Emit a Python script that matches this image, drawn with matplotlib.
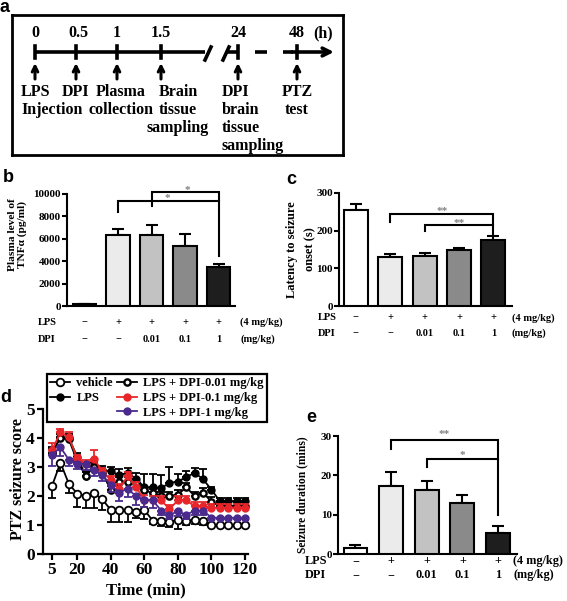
import numpy as np
import matplotlib
matplotlib.use("Agg")
import matplotlib.pyplot as plt
from matplotlib.lines import Line2D

SERIF = "Liberation Serif"
SANS = "Liberation Sans"
plt.rcParams['font.family'] = [SERIF, 'DejaVu Sans']
plt.rcParams['font.weight'] = 'bold'

W, H = 567, 601

# ---------------- data ----------------
# panel a: timeline
time_labels = ['0', '0.5', '1', '1.5', '24', '48']
event_labels = ['LPS\nInjection', 'DPI', 'Plasma\ncollection', 'Brain\ntissue\nsampling',
                'DPI\nbrain\ntissue\nsampling', 'PTZ\ntest']

# bar panels
groups_lps = ['\u2212', '+', '+', '+', '+']
groups_dpi = ['\u2212', '\u2212', '0.01', '0.1', '1']
bar_colors = ['white', '#ebebeb', '#c2c2c2', '#8a8a8a', '#1e1e1e']

tnf_vals = [180, 6330, 6330, 5400, 3480]
tnf_err = [0, 520, 910, 1060, 270]

lat_vals = [255, 131, 133, 148, 176]
lat_err = [15, 6, 9, 7, 9]

dur_vals = [1.45, 17.4, 16.3, 13.05, 5.25]
dur_err = [0.85, 3.4, 2.3, 1.95, 1.95]

# panel d: time course
t_min = [5, 10, 15, 20, 25, 30, 35, 40, 45, 50, 55, 60, 65, 70, 75, 80, 85, 90, 95, 100, 105, 110, 115, 120]
vehicle = [2.35, 3.15, 2.42, 2.08, 2.0, 2.1, 1.88, 1.52, 1.52, 1.52, 1.44, 1.52, 1.15, 1.15, 1.12, 1.17,
           1.15, 1.17, 1.15, 1.0, 1.0, 1.0, 1.0, 1.0]
vehicle_err = [0.43, 0.3, 0.3, 0.45, 0.4, 0.5, 0.35, 0.4, 0.4, 0.4, 0.2, 0.3, 0.1, 0.2, 0.2, 0.3, 0.15,
               0.15, 0.15, 0.03, 0.03, 0.03, 0.03, 0.03]
lps = [3.5, 4.03, 4.0, 3.35, 2.7, 3.05, 2.9, 2.85, 2.72, 2.8, 2.6, 2.3, 2.3, 2.27, 2.45, 2.5, 2.65, 2.8,
       2.58, 2.22, 1.82, 1.82, 1.82, 1.82]
lps_err = [0.2, 0.12, 0.15, 0.15, 0.12, 0.12, 0.15, 0.15, 0.2, 0.15, 0.2, 0.45, 0.45, 0.45, 0.55, 0.25,
           0.2, 0.15, 0.35, 0.1, 0.12, 0.12, 0.12, 0.12]
dpi001 = [3.5, 4.0, 3.95, 3.2, 2.7, 3.0, 2.8, 2.2, 2.5, 2.5, 2.45, 2.2, 2.1, 2.0, 2.0, 2.05, 2.3, 2.0,
          2.12, 1.8, 1.65, 1.65, 1.65, 1.65]
dpi001_err = [0.15] * 24
dpi01 = [3.58, 4.2, 4.02, 3.3, 3.1, 3.28, 2.85, 2.55, 2.25, 2.68, 2.3, 1.87, 1.85, 1.85, 1.55, 1.85,
         1.85, 1.65, 1.65, 1.6, 1.6, 1.6, 1.6, 1.6]
dpi01_err = [0.25, 0.12, 0.2, 0.12, 0.15, 0.3, 0.12, 0.15, 0.15, 0.15, 0.2, 0.15, 0.15, 0.15, 0.15,
             0.15, 0.15, 0.15, 0.15, 0.12, 0.12, 0.12, 0.12, 0.12]
dpi1 = [3.42, 3.68, 3.25, 3.12, 3.1, 2.88, 2.72, 2.38, 2.12, 2.25, 2.0, 1.87, 1.85, 1.5, 1.35, 1.47,
        1.35, 1.5, 1.5, 1.25, 1.25, 1.25, 1.25, 1.25]
dpi1_err = [0.4, 0.3, 0.2, 0.2, 0.2, 0.2, 0.2, 0.25, 0.3, 0.3, 0.3, 0.25, 0.25, 0.15, 0.15, 0.15,
            0.15, 0.15, 0.15, 0.05, 0.05, 0.05, 0.05, 0.05]

RED = '#e8262a'
PURPLE = '#4a2a8c'

fig = plt.figure(figsize=(W / 100, H / 100), dpi=100)


def px_rect(L, T, R, B):
    return [L / W, 1 - B / H, (R - L) / W, (B - T) / H]


def fig_text(x, y, s, **kw):
    fig.text(x / W, 1 - y / H, s, **kw)


# ---------------- panel a ----------------
axa = fig.add_axes(px_rect(12, 15, 343, 155))
axa.set_xlim(12, 343)
axa.set_ylim(155, 15)
axa.set_xticks([])
axa.set_yticks([])
for sp in axa.spines.values():
    sp.set_linewidth(2)

tick_x = [35, 76, 117, 161, 238, 297]
LW = 2.6
ly = 52
axa.plot([35, 205], [ly, ly], color='k', lw=LW, solid_capstyle='butt')
axa.plot([205, 211], [60, 47], color='k', lw=LW)
axa.plot([223, 229], [60, 47], color='k', lw=LW)
axa.plot([227, 238], [ly, ly], color='k', lw=LW, solid_capstyle='butt')
axa.plot([255, 267], [ly, ly], color='k', lw=LW, solid_capstyle='butt')
axa.plot([283, 293], [ly, ly], color='k', lw=LW, solid_capstyle='butt')
axa.annotate('', xy=(334, ly), xytext=(292, ly),
             arrowprops=dict(arrowstyle='->', lw=LW, color='k', mutation_scale=14,
                             shrinkA=0, shrinkB=0))
for x, lab in zip(tick_x, time_labels):
    axa.plot([x, x], [46, 58], color='k', lw=LW)
    axa.text(x + (2 if lab == '0.5' else 0), 33, lab, ha='center', va='center', fontsize=11.5,
             fontweight='bold')
axa.text(323, 33, '(h)', ha='center', va='center', fontsize=11.5, fontweight='bold')
for x in tick_x:
    axa.annotate('', xy=(x, 63), xytext=(x, 79),
                 arrowprops=dict(arrowstyle='->', lw=2.2, color='k', mutation_scale=10,
                                 shrinkA=0, shrinkB=0))

ev_pos = [(21, 'left'), (76, 'center'), (121, 'center'), (178, 'center'), (222, 'left'),
          (297, 'center')]
for (x, ha), lab in zip(ev_pos, event_labels):
    for i, line in enumerate(lab.split('\n')):
        axa.text(x, 96 + 18 * i, line, ha=ha, va='baseline', fontsize=11.5,
                 fontweight='bold')


# ---------------- bar panels ----------------
def bar_panel(rect, vals, errs, ylim, yticks, width, xlim, ylabel, ylabel_size, row_y,
              lab_x, unit_x, table_size, label_xy, label_ls):
    ax = fig.add_axes(rect)
    x = np.arange(len(vals))
    ax.bar(x, vals, width=width, color=bar_colors, edgecolor='k', linewidth=1.5, zorder=3)
    ax.errorbar(x, vals, yerr=[np.zeros(len(vals)), errs], fmt='none', ecolor='k',
                elinewidth=1.5, capsize=4.2, capthick=1.5, zorder=2)
    ax.set_xlim(*xlim)
    ax.set_ylim(*ylim)
    ax.set_yticks(yticks)
    ax.set_xticks([])
    for s in ['top', 'right']:
        ax.spines[s].set_visible(False)
    for s in ['left', 'bottom']:
        ax.spines[s].set_linewidth(1.5)
    ax.tick_params(axis='y', length=3.5, width=1.5, pad=1, labelsize=8)
    for lbl in ax.get_yticklabels():
        lbl.set_fontweight('bold')
    ax.set_ylabel(ylabel, fontsize=ylabel_size, fontweight='bold', linespacing=label_ls)
    ax.yaxis.set_label_coords(*label_xy)
    tr = ax.get_xaxis_transform()
    ax.text(lab_x, row_y[0], 'LPS', transform=tr, ha='left', va='center',
            fontsize=table_size, fontweight='bold')
    ax.text(lab_x, row_y[1], 'DPI', transform=tr, ha='left', va='center',
            fontsize=table_size, fontweight='bold')
    for i in range(len(vals)):
        ax.text(i, row_y[0], groups_lps[i], transform=tr, ha='center', va='center',
                fontsize=table_size, fontweight='bold')
        ax.text(i, row_y[1], groups_dpi[i], transform=tr, ha='center', va='center',
                fontsize=table_size, fontweight='bold')
    ax.text(unit_x, row_y[0], '(4 mg/kg)', transform=tr, ha='left', va='center',
            fontsize=table_size, fontweight='bold')
    ax.text(unit_x, row_y[1], '(mg/kg)', transform=tr, ha='left', va='center',
            fontsize=table_size, fontweight='bold')
    return ax


def bracket(ax, x1, x2, y, y1_end, y2_end, star, star_x, gap_px, star_size=8):
    ax.plot([x1, x1, x2, x2], [y1_end, y, y, y2_end], color='k', lw=1.5, clip_on=False,
            solid_joinstyle='miter')
    off = gap_px * 0.72 - 0.47 * star_size
    ax.annotate(star, xy=(star_x, y), xytext=(0, off), textcoords='offset points',
                ha='center', va='baseline', color='#808080', fontsize=star_size,
                fontweight='bold', annotation_clip=False)


# panel b
axb = bar_panel(px_rect(67, 194, 235, 306), tnf_vals, tnf_err, (0, 10000),
                [0, 2000, 4000, 6000, 8000, 10000], 0.69, (-0.52, 4.49),
                'Plasma level of\nTNF\u03b1 (pg/ml)', 8.2, (-0.143, -0.295), -1.39, 4.64,
                7.5, (-0.24, 0.64), 1.0)
bracket(axb, 2, 4, 10200, 8950, 4500, '*', 3.06, 4)
bracket(axb, 1, 4, 9400, 8350, 9400, '*', 2.46, 5)

# panel c
axc = bar_panel(px_rect(339, 193, 512, 306), lat_vals, lat_err, (0, 300),
                [0, 100, 200, 300], 0.7, (-0.49, 4.54),
                'Latency to seizure\nonset (s)', 9, (-0.106, -0.239), -1.10, 4.53,
                7.5, (-0.13, 0.5), 1.75)
bracket(axc, 1, 4, 245, 224, 186, '**', 2.5, 5)
bracket(axc, 2, 4, 215, 198, 215, '**', 3.0, 4.5)

# panel e
axe = bar_panel(px_rect(338, 436, 517, 554), dur_vals, dur_err, (0, 30),
                [0, 10, 20, 30], 0.67, (-0.49, 4.53),
                'Seizure duration (mins)', 8.3, (-0.057, -0.18), -1.42, 4.42,
                8.8, (-0.165, 0.5), 1.0)
bracket(axe, 1, 4, 29, 26.6, 9.9, '**', 2.5, 8)
bracket(axe, 2, 4, 24.2, 22.0, 24.2, '*', 3.0, 6)

# ---------------- panel d ----------------
axd = fig.add_axes(px_rect(43, 409, 248, 554))
series = [
    ('vehicle', vehicle, vehicle_err, 'down', dict(color='k', mfc='white', mec='k', ms=5.5, mew=1.3)),
    ('LPS', lps, lps_err, 'up', dict(color='k', mfc='k', mec='k', ms=5, mew=1)),
    ('LPS + DPI-0.01 mg/kg', dpi001, dpi001_err, 'up', dict(color='k', mfc='white', mec='k', ms=4.5, mew=1.7)),
    ('LPS + DPI-0.1 mg/kg', dpi01, dpi01_err, 'up', dict(color=RED, mfc=RED, mec=RED, ms=5, mew=1)),
    ('LPS + DPI-1 mg/kg', dpi1, dpi1_err, 'down', dict(color=PURPLE, mfc=PURPLE, mec=PURPLE, ms=5, mew=1)),
]
handles = {}
zorders = [3, 4, 5, 6, 7]
for (name, y, e, d, st), z in zip(series, zorders):
    e = np.array(e)
    z0 = np.zeros_like(e)
    yerr = [e, z0] if d == 'down' else [z0, e]
    axd.errorbar(t_min, y, yerr=yerr, fmt='none', ecolor=st['color'], elinewidth=1.3,
                 capsize=2.6, capthick=1.3, zorder=z - 0.5, clip_on=False)
    ln, = axd.plot(t_min, y, marker='o', lw=1.3, zorder=z, clip_on=False, label=name, **st)
    handles[name] = ln
axd.set_xlim(-0.4, 121.8)
axd.set_ylim(0, 5)
axd.set_xticks([5, 20, 40, 60, 80, 100, 120])
axd.set_yticks([0, 1, 2, 3, 4, 5])
for s in ['top', 'right']:
    axd.spines[s].set_visible(False)
for s in ['left', 'bottom']:
    axd.spines[s].set_linewidth(1.6)
axd.tick_params(length=4, width=1.6, pad=2, labelsize=12.5)
for lbl in axd.get_xticklabels() + axd.get_yticklabels():
    lbl.set_fontweight('bold')
axd.set_xlabel('Time (min)', fontsize=12, fontweight='bold', labelpad=3)
axd.set_ylabel('PTZ seizure score', fontsize=11.5, fontweight='bold')
axd.yaxis.set_label_coords(-0.085, 0.52)

blank = Line2D([], [], alpha=0)
order = ['vehicle', 'LPS', None, 'LPS + DPI-0.01 mg/kg', 'LPS + DPI-0.1 mg/kg', 'LPS + DPI-1 mg/kg']
lh = [handles[k] if k else blank for k in order]
ll = [k if k else '' for k in order]
leg = axd.legend(lh, ll, ncol=2, loc='upper left',
                 bbox_to_anchor=(47 / W, 1 - 374 / H), bbox_transform=fig.transFigure,
                 prop=dict(family=SERIF, weight='bold', size=9), frameon=True, fancybox=False,
                 edgecolor='k', framealpha=1, borderpad=0.25, labelspacing=0.22,
                 handlelength=1.6, handletextpad=0.5, columnspacing=0.3, borderaxespad=0)
leg.get_frame().set_linewidth(1.6)
leg.set_zorder(20)

# panel letters
for letter, (x, y) in zip('abcde', [(5, 8), (8, 177), (291, 180), (6, 398), (311, 418)]):
    fig_text(x, y, letter, ha='center', va='center', fontsize=13, fontweight='bold',
             family=SANS)

fig.savefig('out.png', dpi=100)
